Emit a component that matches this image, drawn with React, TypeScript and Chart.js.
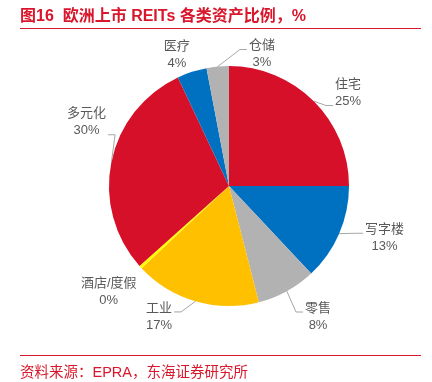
import React, { useEffect, useRef } from "react";
import { Chart, registerables } from "chart.js";

Chart.register(...registerables);

const categories = ["住宅", "写字楼", "零售", "工业", "酒店/度假", "多元化", "医疗", "仓储"];
const shares = [25, 13, 8, 17, 0.4, 29.6, 4, 3];
const colors = ["#D7102A", "#0070C0", "#B2B2B2", "#FFC000", "#FFFF00", "#D7102A", "#0070C0", "#B2B2B2"];

const titleText = "图16  欧洲上市 REITs 各类资产比例，%";
const sourceText = "资料来源：EPRA，东海证券研究所";

// label layout: angular shift from slice mid-angle (deg), distance from centre, leader line, attach text line
const labelLayout = [
  { shift: 7, dist: 151, leader: true, line: 1 },
  { shift: -5, dist: 164, leader: true, line: 0 },
  { shift: -5.5, dist: 158, leader: true, line: 0 },
  { shift: 12, dist: 148, leader: true, line: 0 },
  { shift: 1.2, dist: 160, leader: false, line: 0 },
  { shift: 12.6, dist: 156, leader: true, line: 1 },
  { shift: -3.7, dist: 141, leader: false, line: 0 },
  { shift: 19.4, dist: 136, leader: true, line: 0 },
];

const FONT = '"Liberation Sans", "Noto Sans CJK SC", sans-serif';

const labelPlugin = {
  id: "pieLabels",
  afterDraw(chart: any) {
    const ctx = chart.ctx;
    const meta = chart.getDatasetMeta(0);
    const lineH = 17;
    ctx.save();
    ctx.font = "13px " + FONT;
    ctx.textAlign = "center";
    ctx.textBaseline = "middle";
    meta.data.forEach((arc: any, i: number) => {
      const { x, y, startAngle, endAngle, outerRadius } = arc.getProps(
        ["x", "y", "startAngle", "endAngle", "outerRadius"],
        true
      );
      const mid = (startAngle + endAngle) / 2;
      const lay = labelLayout[i];
      const a = mid + (lay.shift * Math.PI) / 180;
      const cx = x + Math.cos(a) * lay.dist;
      const cy = y + Math.sin(a) * lay.dist;
      const l1 = categories[i];
      const l2 = Math.round(shares[i]) + "%";
      const y1 = cy - lineH / 2;
      const y2 = cy + lineH / 2;
      ctx.fillStyle = "#595959";
      ctx.fillText(l1, cx, y1);
      ctx.fillText(l2, cx, y2);
      if (lay.leader) {
        const w = Math.max(ctx.measureText(l1).width, ctx.measureText(l2).width);
        const sx = x + Math.cos(mid) * outerRadius;
        const sy = y + Math.sin(mid) * outerRadius;
        const right = cx > sx;
        const ex = right ? cx - w / 2 - 2 : cx + w / 2 + 2;
        const ey = (lay.line === 0 ? y1 : y2) + 4;
        const bx = right ? ex - 7 : ex + 7;
        ctx.strokeStyle = "#A6A6A6";
        ctx.lineWidth = 1;
        ctx.beginPath();
        ctx.moveTo(sx, sy);
        ctx.lineTo(bx, ey);
        ctx.lineTo(ex, ey);
        ctx.stroke();
      }
    });
    ctx.restore();
  },
};

export default function App() {
  const ref = useRef<HTMLCanvasElement | null>(null);
  useEffect(() => {
    if (!ref.current) return;
    const chart = new Chart(ref.current, {
      type: "pie",
      data: {
        labels: categories,
        datasets: [
          {
            data: shares,
            backgroundColor: colors,
            borderWidth: 0,
          },
        ],
      },
      options: {
        responsive: false,
        animation: false,
        layout: { padding: { top: 66, bottom: 76, left: 109, right: 83 } },
        plugins: {
          legend: { display: false },
          tooltip: { enabled: false },
        },
      },
      plugins: [labelPlugin],
    });
    return () => chart.destroy();
  }, []);

  return (
    <div style={{ position: "absolute", left: 0, top: 0, width: 432, height: 382, background: "#fff", overflow: "hidden" }}>
      <canvas ref={ref} width={432} height={382} style={{ position: "absolute", left: 0, top: 0 }} />
      <div
        style={{
          position: "absolute",
          left: 20,
          top: 8,
          fontFamily: FONT,
          fontWeight: "bold",
          fontSize: 16,
          lineHeight: "16px",
          color: "#D9162B",
          whiteSpace: "pre",
        }}
      >
        {titleText}
      </div>
      <div style={{ position: "absolute", left: 20, top: 28, width: 401, height: 1, background: "#D9162B" }} />
      <div style={{ position: "absolute", left: 20, top: 355, width: 401, height: 1, background: "#D9162B" }} />
      <div
        style={{
          position: "absolute",
          left: 20,
          top: 364,
          fontFamily: FONT,
          fontSize: 14.5,
          lineHeight: "16px",
          color: "#D9162B",
          whiteSpace: "pre",
        }}
      >
        {sourceText}
      </div>
    </div>
  );
}
